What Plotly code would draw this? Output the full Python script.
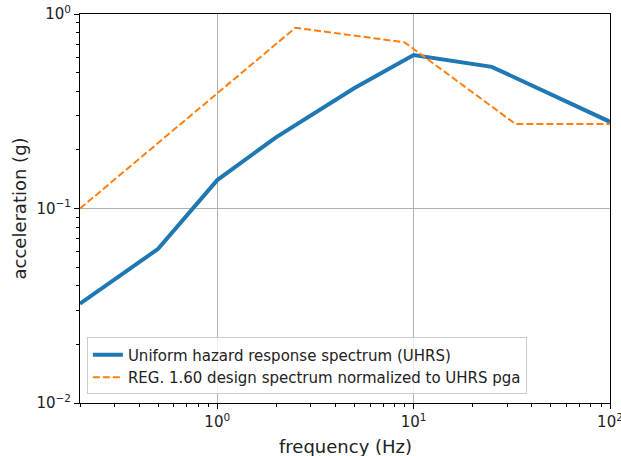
import plotly.graph_objects as go

uhrs_freq = [0.2, 0.5, 1.0, 2.0, 5.0, 10.0, 25.0, 100.0]
uhrs_acc = [0.0324, 0.062, 0.14, 0.233, 0.416, 0.615, 0.535, 0.279]

rg_freq = [0.2, 2.5, 9.0, 33.0, 100.0]
rg_acc = [0.1, 0.85, 0.715, 0.272, 0.272]

x_ticks = [1, 10, 100]
x_ticktext = ["10<sup>0</sup>", "10<sup>1</sup>", "10<sup>2</sup>"]
y_ticks = [0.01, 0.1, 1]
y_ticktext = ["10<sup>−2</sup>", "10<sup>−1</sup>", "10<sup>0</sup>"]

x_minor = [m * 10 ** e for e in range(-1, 2) for m in range(2, 10) if 0.2 <= m * 10 ** e <= 100]
y_minor = [m * 10 ** e for e in range(-2, 0) for m in range(2, 10)]

FONT = "DejaVu Sans"

fig = go.Figure()
fig.add_trace(go.Scatter(x=uhrs_freq, y=uhrs_acc, mode="lines",
                         name="Uniform hazard response spectrum (UHRS)",
                         line=dict(color="#1f77b4", width=4)))
fig.add_trace(go.Scatter(x=rg_freq, y=rg_acc, mode="lines",
                         name="REG. 1.60 design spectrum normalized to UHRS pga",
                         line=dict(color="#ff7f0e", width=2, dash="7px,3px")))

axis_common = dict(showline=True, linecolor="black", linewidth=1, mirror=True,
                   ticks="outside", ticklen=5, tickcolor="black", tickwidth=1,
                   showgrid=True, gridcolor="#b0b0b0", gridwidth=1, zeroline=False,
                   automargin=False, ticklabeloverflow="allow",
                   tickfont=dict(family=FONT, size=15, color="#222"))

fig.update_xaxes(type="log", range=[-0.69897, 2.00001], tickvals=x_ticks, ticktext=x_ticktext,
                 minor=dict(tickvals=x_minor, ticks="outside", ticklen=3, tickcolor="black", showgrid=False),
                 **axis_common)
fig.update_yaxes(type="log", range=[-2, 0.00001], tickvals=y_ticks, ticktext=y_ticktext,
                 minor=dict(tickvals=y_minor, ticks="outside", ticklen=3, tickcolor="black", showgrid=False),
                 **axis_common)

fig.add_annotation(text="frequency (Hz)", xref="paper", yref="paper", x=0.5, y=0,
                   yshift=-43, xanchor="center", yanchor="middle", showarrow=False,
                   font=dict(family=FONT, size=18, color="#222"))
fig.add_annotation(text="acceleration (g)", xref="paper", yref="paper", x=0, y=0.5,
                   xshift=-61, xanchor="center", yanchor="middle", textangle=-90, showarrow=False,
                   font=dict(family=FONT, size=18, color="#222"))

fig.update_layout(width=621, height=456,
                  margin=dict(l=80, r=11, t=14, b=53),
                  paper_bgcolor="white", plot_bgcolor="white",
                  font=dict(family=FONT, size=15, color="#222"),
                  legend=dict(x=0.013, y=0.022, xanchor="left", yanchor="bottom",
                              bgcolor="rgba(255,255,255,0.8)", bordercolor="#cccccc", borderwidth=1,
                              font=dict(family=FONT, size=15, color="#222"),
                              tracegroupgap=0, itemwidth=30))

fig.write_html("out.html")
